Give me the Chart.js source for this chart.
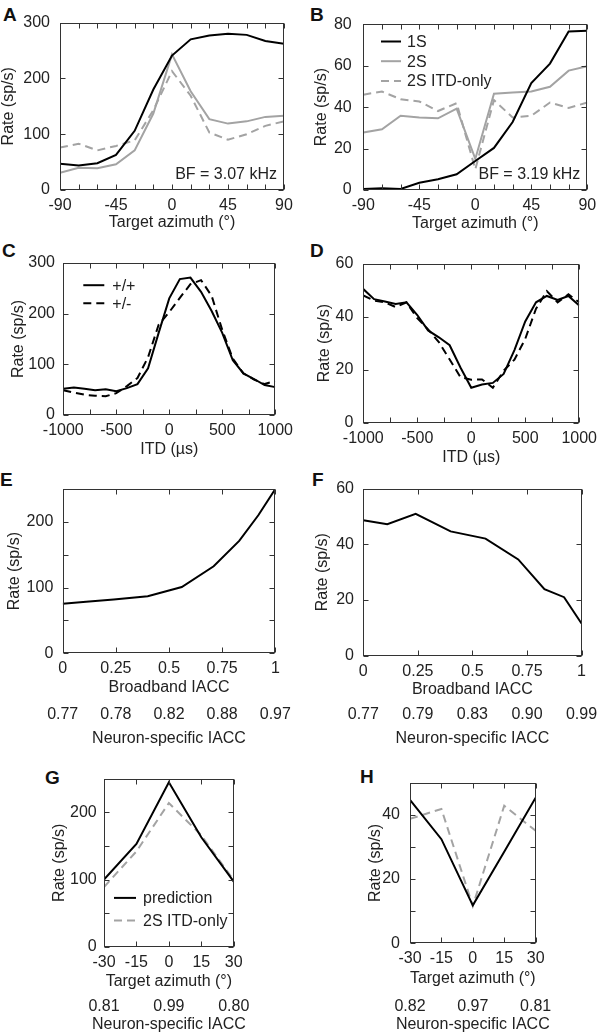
<!DOCTYPE html>
<html>
<head>
<meta charset="utf-8">
<script src="https://cdn.jsdelivr.net/npm/chart.js@4.4.1/dist/chart.umd.min.js"></script>
<style>
  html, body { margin: 0; padding: 0; background: #fff; }
  #fig { position: relative; width: 604px; height: 1036px; overflow: hidden; }
  #fig canvas { position: absolute; }
  .tag { position: absolute; font: bold 19px "Liberation Sans", Arial, sans-serif; line-height: 19px; color: #111; }
</style>
</head>
<body>
<div id="fig"></div>
<script>
// ---- data ----
const azimuth = [-90, -75, -60, -45, -30, -15, 0, 15, 30, 45, 60, 75, 90];
const rateA1S = [47, 44, 48, 63, 106, 180, 241, 270, 277, 280, 278, 267, 262];
const rateA2S = [31, 40, 39, 46, 71, 137, 243, 177, 127, 119, 123, 131, 133];
const rateA2SItd = [76, 83, 71, 79, 89, 143, 213, 169, 103, 90, 100, 115, 123];

const rateB1S = [0.5, 0.8, 0.5, 3.5, 5.2, 7.6, 14, 20.3, 32.8, 51.6, 61, 76.5, 76.8];
const rateB2S = [27.7, 29.3, 35.8, 35, 34.6, 39.3, 15, 46.5, 47, 47.5, 49.8, 57.6, 59.7];
const rateB2SItd = [46, 47.5, 43.8, 42.7, 38.1, 41.9, 10, 43.4, 35, 35.8, 42.2, 39.6, 42.2];

const itd = [-1000, -900, -800, -700, -600, -500, -400, -300, -200, -100, 0,
             100, 200, 300, 400, 500, 600, 700, 800, 900, 1000];
const rateCpp = [52, 54, 52, 49, 51, 47, 53, 61, 92, 162, 230, 268, 271, 243, 205, 162, 108, 82, 71, 59, 55];
const rateCpm = [49, 44, 40, 38, 37, 43, 57, 73, 114, 178, 203, 231, 258, 266, 235, 168, 111, 82, 70, 61, 67];

const rateDpp = [50.4, 46.6, 45.7, 44.8, 45.4, 40.6, 34.8, 32.2, 29.2, 20.8, 13.2,
                 14.4, 15, 18.4, 27.4, 38.2, 45.4, 47.8, 46.3, 47.8, 44.2];
const rateDpm = [48, 46, 45.4, 43.6, 45.4, 39.4, 35.2, 30.4, 23.8, 17.2, 16.2,
                 16.3, 13.2, 19.6, 23.8, 31.6, 43, 49.6, 45.4, 48.4, 45.4];

const broadbandIacc = [0, 0.11, 0.24, 0.4, 0.56, 0.71, 0.83, 0.92, 1];
const rateE = [75.5, 78.5, 82, 86.7, 100.8, 132.4, 171, 210, 250];
const rateF = [48.7, 47.3, 51, 44.7, 42.1, 34.6, 23.9, 21, 11.5];

const iaccTickPos = [0, 0.25, 0.5, 0.75, 1];
const neuronIaccE = ['0.77', '0.78', '0.82', '0.88', '0.97'];
const neuronIaccF = ['0.77', '0.79', '0.83', '0.90', '0.99'];

const nearAzimuth = [-30, -15, 0, 15, 30];
const rateGPred = [100, 153, 245, 163, 97];
const rateGItd = [89, 142, 214, 166, 99];
const rateHPred = [44.6, 32.4, 11.8, 28.5, 45.3];
const rateHItd = [38.7, 41.8, 11.6, 42.8, 35];

const azTickPos = [-30, 0, 30];
const neuronIaccG = ['0.81', '0.99', '0.80'];
const neuronIaccH = ['0.82', '0.97', '0.81'];

// ---- styling ----
const FONT = '"Liberation Sans", Arial, sans-serif';
const black = '#000000';
const gray = '#a3a3a3';
const dash = [8, 5];

Chart.defaults.font.family = FONT;
Chart.defaults.font.size = 16;
Chart.defaults.color = '#222';

function pts(xs, ys) {
  return xs.map((x, i) => ({ x: x, y: ys[i] }));
}

function line(label, xs, ys, color, dashed) {
  return {
    label: label,
    data: pts(xs, ys),
    borderColor: color,
    borderWidth: 2,
    borderDash: dashed ? dash : [],
    pointRadius: 0,
    tension: 0,
    fill: false,
  };
}

const rateTitle = 'Rate (sp/s)';
const azTitle = 'Target azimuth (\u00b0)';
const itdTitle = 'ITD (\u00b5s)';
const neuronTitle = 'Neuron-specific IACC';

const panels = [
  {
    tag: 'A', tagAt: [3, 5], area: [60, 15, 284, 190], yW: 60.6, yPad: 10, xH: 42.3,
    x: [-90, 90, 15, 45], y: [0, 300, 100, 100], xTitle: azTitle,
    datasets: [
      line('1S', azimuth, rateA1S, black),
      line('2S', azimuth, rateA2S, gray),
      line('2S ITD-only', azimuth, rateA2SItd, gray, true),
    ],
    note: 'BF = 3.07 kHz',
  },
  {
    tag: 'B', tagAt: [310, 5], area: [363.3, 15, 587.3, 190], yW: 51.2, yPad: 11.6, xH: 43.6,
    x: [-90, 90, 15, 45], y: [0, 80, 20, 20], xTitle: azTitle,
    datasets: [
      line('1S', azimuth, rateB1S, black),
      line('2S', azimuth, rateB2S, gray),
      line('2S ITD-only', azimuth, rateB2SItd, gray, true),
    ],
    legend: { dx: 17.7, len: 20, gap: 6, dy: 17.3, row: 19.7 },
    note: 'BF = 3.19 kHz',
  },
  {
    tag: 'C', tagAt: [2, 241], area: [63.3, 257, 278.3, 415], yW: 54.6, yPad: 8.3, xH: 44.6,
    x: [-1000, 1000, 250, 500], y: [0, 300, 100, 100], xTitle: itdTitle,
    datasets: [
      line('+/+', itd, rateCpp, black),
      line('+/-', itd, rateCpm, black, true),
    ],
    legend: { dx: 20, len: 21, gap: 8, dy: 22.3, row: 18 },
  },
  {
    tag: 'D', tagAt: [310, 241], area: [363.3, 256, 582.7, 422.7], yW: 47.9, yPad: 10, xH: 44.6,
    x: [-1000, 1000, 250, 500], y: [0, 60, 20, 20], xTitle: itdTitle,
    datasets: [
      line('+/+', itd, rateDpp, black),
      line('+/-', itd, rateDpm, black, true),
    ],
  },
  {
    tag: 'E', tagAt: [0, 470], area: [62.7, 482.7, 278.3, 653.3], yW: 57.3, yPad: 9.4, xH: 44,
    x: [0, 1, 0.25, 0.25], y: [0, 250, 50, 100], xTitle: 'Broadband IACC',
    x2: { pos: iaccTickPos, labels: neuronIaccE, pad: 8.1, h: 51.3 },
    datasets: [line('rate', broadbandIacc, rateE, black)],
  },
  {
    tag: 'F', tagAt: [312, 470], area: [363.3, 482, 583, 655.5], yW: 49.9, yPad: 9.3, xH: 44,
    x: [0, 1, 0.25, 0.25], y: [0, 60, 20, 20], xTitle: 'Broadband IACC',
    x2: { pos: iaccTickPos, labels: neuronIaccF, pad: 5.9, h: 49.1 },
    datasets: [line('rate', broadbandIacc, rateF, black)],
  },
  {
    tag: 'G', tagAt: [45, 768], area: [104, 774, 236, 946.7], yW: 53.6, yPad: 7.3, xH: 44,
    x: [-30, 30, 15, 15], y: [0, 250, 50, 100], xTitle: azTitle,
    x2: { pos: azTickPos, labels: neuronIaccG, pad: 6.7, h: 43.9 },
    datasets: [
      line('prediction', nearAzimuth, rateGPred, black),
      line('2S ITD-only', nearAzimuth, rateGItd, gray, true),
    ],
    legend: { dx: 10, len: 22, gap: 7, dy: 119, row: 22.7 },
  },
  {
    tag: 'H', tagAt: [360, 767], area: [410, 775, 539.3, 943.3], yW: 44.1, yPad: 10, xH: 45.3,
    x: [-30, 30, 15, 15], y: [0, 50, 10, 20], xTitle: azTitle,
    x2: { pos: azTickPos, labels: neuronIaccH, pad: 8.8, h: 46 },
    datasets: [
      line('prediction', nearAzimuth, rateHPred, black),
      line('2S ITD-only', nearAzimuth, rateHItd, gray, true),
    ],
  },
];

// box with inward ticks on all four sides, inset legend, BF note,
// and the IACC title (drawn here so it is not squeezed to the axis width)
function frame(p) {
  return {
    id: 'frame',
    afterDatasetsDraw(chart) {
      const ctx = chart.ctx;
      const a = chart.chartArea;
      const xs = chart.scales.x;
      const ys = chart.scales.y;
      const L = Math.round(a.left) + 0.5, R = Math.round(a.right) - 0.5;
      const T = Math.round(a.top) + 0.5, B = Math.round(a.bottom) - 0.5;
      ctx.save();
      ctx.strokeStyle = '#333';
      ctx.lineWidth = 1;
      ctx.setLineDash([]);
      ctx.strokeRect(L, T, R - L, B - T);
      ctx.beginPath();
      xs.ticks.forEach(t => {
        const px = Math.round(xs.getPixelForValue(t.value)) + 0.5;
        ctx.moveTo(px, B); ctx.lineTo(px, B - 5);
        ctx.moveTo(px, T); ctx.lineTo(px, T + 5);
      });
      ys.ticks.forEach(t => {
        const py = Math.round(ys.getPixelForValue(t.value)) + 0.5;
        ctx.moveTo(L, py); ctx.lineTo(L + 5, py);
        ctx.moveTo(R, py); ctx.lineTo(R - 5, py);
      });
      ctx.stroke();

      ctx.font = '16px ' + FONT;
      ctx.fillStyle = '#222';
      if (p.legend) {
        const lg = p.legend;
        chart.data.datasets.forEach((ds, i) => {
          const y = a.top + lg.dy + i * lg.row;
          ctx.strokeStyle = ds.borderColor;
          ctx.lineWidth = ds.borderWidth;
          ctx.setLineDash(ds.borderDash || []);
          ctx.beginPath();
          ctx.moveTo(a.left + lg.dx, y);
          ctx.lineTo(a.left + lg.dx + lg.len, y);
          ctx.stroke();
          ctx.textAlign = 'left';
          ctx.textBaseline = 'middle';
          ctx.fillText(ds.label, a.left + lg.dx + lg.len + lg.gap, y + 1);
        });
      }
      if (p.note) {
        ctx.textAlign = 'right';
        ctx.textBaseline = 'middle';
        ctx.fillText(p.note, a.right - 7, a.bottom - 15);
      }
      if (p.x2) {
        ctx.textAlign = 'center';
        ctx.textBaseline = 'middle';
        ctx.fillText(neuronTitle, (a.left + a.right) / 2, chart.scales.x2.bottom - 9.6);
      }
      ctx.restore();
    },
  };
}

function makeConfig(p) {
  const [l, t, r, b] = p.area;
  const x2h = p.x2 ? p.x2.h : 0;
  const cl = Math.floor(l - p.yW - 2);
  const ct = Math.floor(t - 12);
  const cw = Math.ceil(r + 20) - cl;
  const ch = Math.ceil(b + p.xH + x2h) - ct;
  const pad = {
    left: l - p.yW - cl,
    top: t - ct,
    right: cl + cw - r,
    bottom: ct + ch - (b + p.xH + x2h),
  };

  const scales = {
    x: {
      type: 'linear', position: 'bottom', weight: 0,
      min: p.x[0], max: p.x[1],
      grid: { display: false, drawTicks: false },
      border: { display: false },
      ticks: {
        stepSize: p.x[2], autoSkip: false, maxRotation: 0, minRotation: 0, padding: 6,
        callback: v => (Math.abs(v / p.x[3] - Math.round(v / p.x[3])) < 1e-6 ? String(v) : ''),
      },
      title: { display: true, text: p.xTitle, padding: { top: 0, bottom: 0 } },
      afterFit: s => { s.height = p.xH; },
    },
    y: {
      type: 'linear', position: 'left',
      min: p.y[0], max: p.y[1],
      grid: { display: false, drawTicks: false },
      border: { display: false },
      ticks: {
        stepSize: p.y[2], autoSkip: false, padding: p.yPad,
        callback: v => (v % p.y[3] === 0 ? String(v) : ''),
      },
      title: { display: true, text: rateTitle, padding: { top: 0, bottom: 0 } },
      afterFit: s => { s.width = p.yW; },
    },
  };
  if (p.x2) {
    scales.x2 = {
      type: 'linear', position: 'bottom', weight: 1,
      min: p.x[0], max: p.x[1],
      grid: { display: false, drawTicks: false },
      border: { display: false },
      afterBuildTicks: s => { s.ticks = p.x2.pos.map(v => ({ value: v })); },
      ticks: {
        autoSkip: false, maxRotation: 0, minRotation: 0, padding: p.x2.pad,
        callback: v => p.x2.labels[p.x2.pos.indexOf(v)],
      },
      title: { display: false },
      afterFit: s => { s.height = p.x2.h; },
    };
  }

  return {
    geom: { cl, ct, cw, ch },
    config: {
      type: 'line',
      data: { datasets: p.datasets },
      options: {
        responsive: false,
        animation: false,
        devicePixelRatio: 1,
        layout: { padding: pad },
        plugins: { legend: { display: false }, tooltip: { enabled: false } },
        scales: scales,
      },
      plugins: [frame(p)],
    },
  };
}

const fig = document.getElementById('fig');
panels.forEach(p => {
  const tag = document.createElement('div');
  tag.className = 'tag';
  tag.textContent = p.tag;
  tag.style.left = p.tagAt[0] + 'px';
  tag.style.top = p.tagAt[1] + 'px';
  fig.appendChild(tag);

  const { geom, config } = makeConfig(p);
  const canvas = document.createElement('canvas');
  canvas.width = geom.cw;
  canvas.height = geom.ch;
  canvas.style.left = geom.cl + 'px';
  canvas.style.top = geom.ct + 'px';
  canvas.style.width = geom.cw + 'px';
  canvas.style.height = geom.ch + 'px';
  fig.appendChild(canvas);
  new Chart(canvas, config);
});
</script>
</body>
</html>
